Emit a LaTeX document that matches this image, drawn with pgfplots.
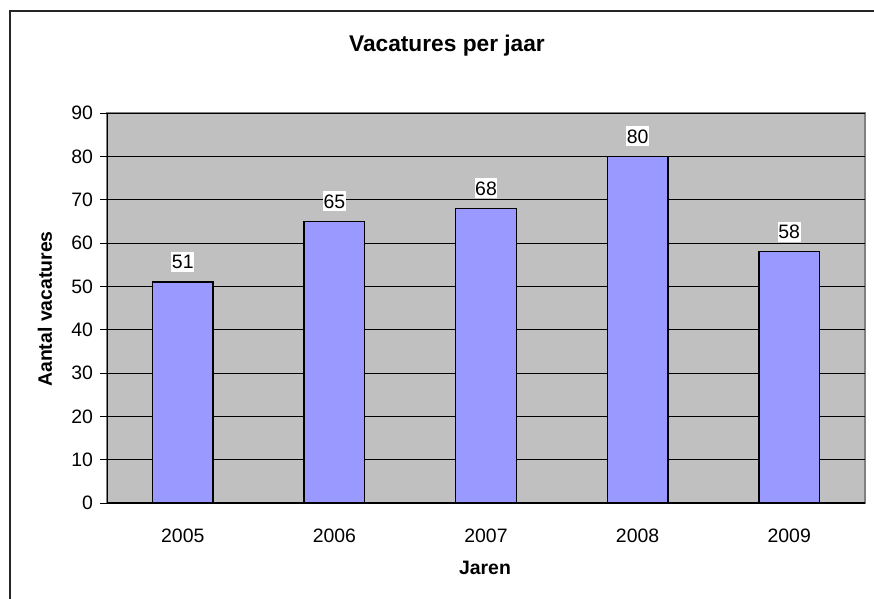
\documentclass[border=0pt]{standalone}
\usepackage{pgfplots}
\pgfplotsset{compat=1.18}
\usepackage{fontspec}
\setmainfont{Liberation Sans}
\definecolor{plotgray}{HTML}{C0C0C0}
\definecolor{barblue}{HTML}{9999FF}
\begin{document}
\begin{tikzpicture}
\useasboundingbox (0,0) rectangle (874bp,599bp);
\fill[white] (0,0) rectangle (874bp,599bp);
\draw[line width=1.6bp, black!85] (10bp,-5bp) -- (10bp,588bp) -- (880bp,588bp);
\begin{axis}[
  at={(107bp,96bp)}, anchor=south west,
  scale only axis, width=758bp, height=390bp,
  xmin=-0.5, xmax=4.5, ymin=0, ymax=90,
  ytick={0,10,...,90},
  xtick={0,1,2,3,4},
  xticklabels={2005,2006,2007,2008,2009},
  extra x ticks={-0.5,0.5,1.5,2.5,3.5,4.5},
  extra x tick labels={},
  extra x tick style={major tick length=7bp, tick style={black!60, line width=0.8bp}},
  major tick length=7bp,
  x tick style={draw=none},
  y tick style={black, line width=0.8bp},
  tick align=outside, tick pos=left,
  ymajorgrids, major grid style={black, line width=0.8bp},
  axis line style={draw=none},
  axis background/.style={fill=plotgray, draw=black!50, line width=1.2bp},
  /pgf/number format/assume math mode=true,
  tick label style={font=\fontsize{19.5}{23}\selectfont},
  yticklabel style={xshift=-3.5bp},
  xticklabel style={yshift=-15bp},
  ybar, bar width=0.4,
  nodes near coords,
  every node near coord/.append style={font=\fontsize{19.5}{23}\selectfont, fill=white, inner xsep=0.5bp, inner ysep=3bp, anchor=center, yshift=20bp},
  clip=false,
]
\addplot[fill=barblue, draw=black, line width=1.5bp] coordinates {(0,51) (1,65) (2,68) (3,80) (4,58)};
\draw[black, line width=1bp] (axis cs:-0.5,0) -- (axis cs:-0.5,90);
\draw[black, line width=1bp] (axis cs:-0.5,0) -- (axis cs:4.5,0);
\end{axis}
\node[font=\fontsize{22.8}{27}\selectfont\bfseries] at (447bp,553bp) {Vacatures per jaar};
\node[font=\fontsize{19.5}{23}\selectfont\bfseries] at (485bp,31bp) {Jaren};
\node[font=\fontsize{19.5}{23}\selectfont\bfseries, rotate=90] at (45bp,290bp) {Aantal vacatures};
\end{tikzpicture}
\end{document}
